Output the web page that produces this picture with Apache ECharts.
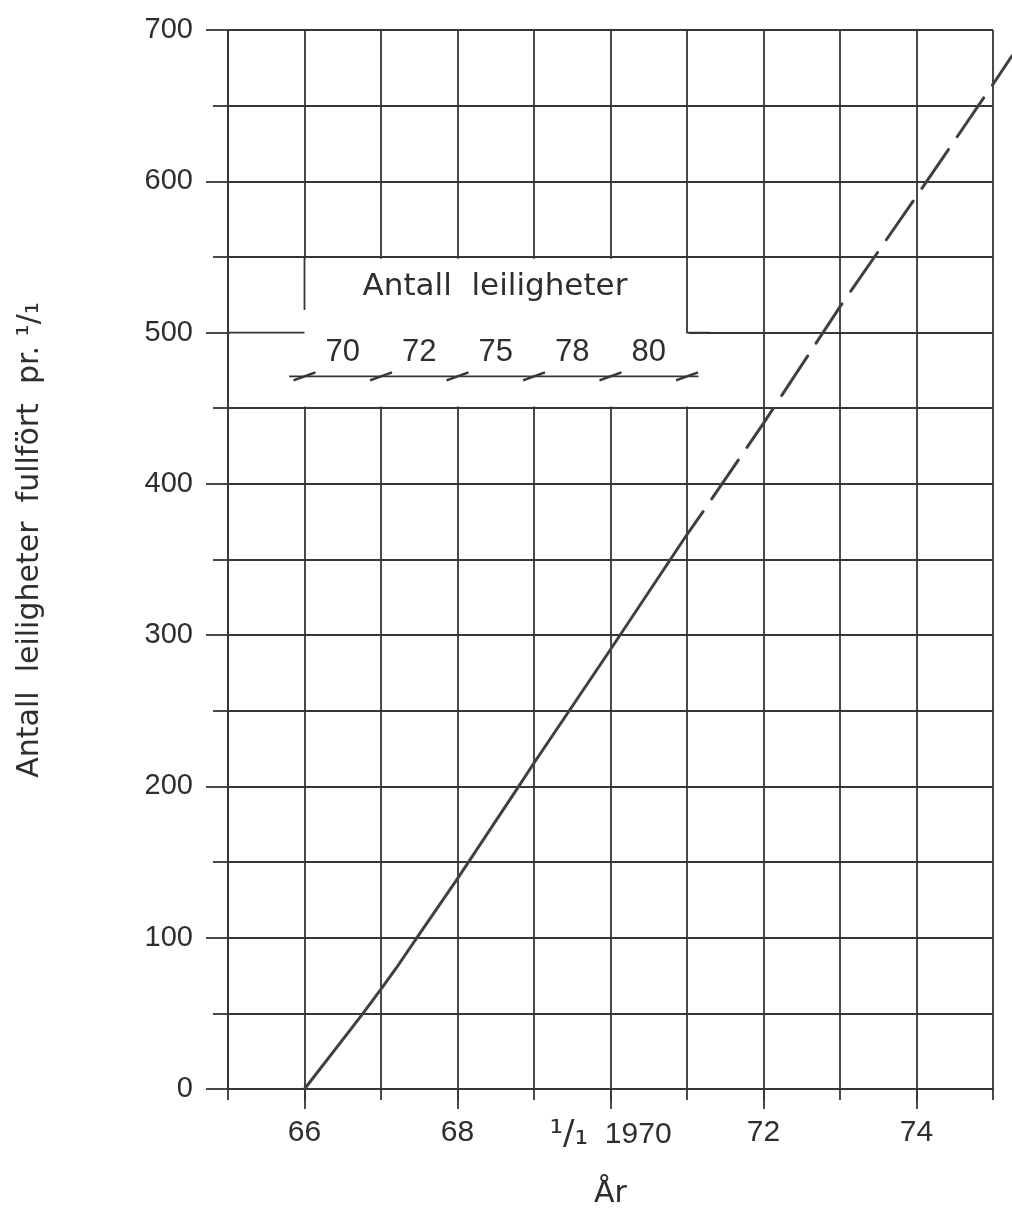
<!DOCTYPE html>
<html><head><meta charset="utf-8">
<script src="https://cdn.jsdelivr.net/npm/echarts@6/dist/echarts.min.js"></script>
<style>html,body{margin:0;padding:0;background:#fff}#c{width:1012px;height:1208px}</style>
</head><body><div id="c"></div>
<script>
// ---- data ----
const actualYears  = [66, 66.75, 67, 67.2, 67.47, 68, 68.8, 69, 70, 71, 71.21];
const actualValues = [0, 49, 66, 80, 100, 139, 200, 215.5, 290.5, 366.5, 381.6];
const projYears    = [71.21, 72, 73, 74, 75, 75.25];
const projValues   = [381.6, 440, 517, 590, 664, 683];
const xLabelYears  = [66, 68, 70, 72, 74];
const insetTitle   = 'Antall  leiligheter';
const insetYears   = [66, 67, 68, 69, 70, 71];
const insetCounts  = ['70', '72', '75', '78', '80'];
const yAxisTitle   = 'Antall  leiligheter  fullfört  pr. ¹/₁';
const xAxisTitle   = 'År';

const GRID = '#363636', INK = '#2e2e2e', LINE = '#404040';
const GW = 1.8;
const NUMF = 'Liberation Sans, Arial, DejaVu Sans, sans-serif';
const TXTF = 'DejaVu Sans, sans-serif';

const chart = echarts.init(document.getElementById('c'), null, {renderer: 'canvas'});
const option = {
  animation: false,
  backgroundColor: '#fff',
  grid: [
    {left: 228, right: 19, top: 30, bottom: 119, containLabel: false, outerBoundsMode: 'none'},
    // same scale, widened to the page edge so the projection can run past 1975
    {left: 228, right: 0, top: 30, bottom: 119, containLabel: false, outerBoundsMode: 'none'}
  ],
  xAxis: [{
    type: 'value', gridIndex: 0, min: 65, max: 75, interval: 1,
    axisLine: {show: true, onZero: false, lineStyle: {color: GRID, width: GW}},
    axisTick: {show: true, length: 11, lineStyle: {color: GRID, width: GW}},
    axisLabel: {show: false},
    splitLine: {show: true, lineStyle: {color: GRID, width: GW}}
  }, {
    type: 'value', gridIndex: 0, min: 65, max: 75, position: 'bottom',
    axisLine: {show: false, onZero: false},
    axisTick: {show: true, length: 20, customValues: xLabelYears, lineStyle: {color: GRID, width: GW}},
    axisLabel: {show: true, customValues: xLabelYears, margin: 29, fontSize: 30, fontFamily: NUMF, color: INK,
      formatter: v => v === 70 ? '{f|¹/₁}  1970' : String(v),
      rich: {f: {fontSize: 34, fontFamily: TXTF, color: INK}}},
    splitLine: {show: false}
  }, {
    type: 'value', gridIndex: 1, min: 65, max: 75.25, show: false
  }],
  yAxis: [{
    type: 'value', gridIndex: 0, min: 0, max: 700, interval: 100,
    axisLine: {show: true, onZero: false, lineStyle: {color: GRID, width: GW}},
    axisTick: {show: true, length: 22, lineStyle: {color: GRID, width: GW}},
    minorTick: {show: true, splitNumber: 2, length: 15, lineStyle: {color: GRID, width: GW}},
    axisLabel: {margin: 35, fontSize: 29, fontFamily: NUMF, color: INK},
    splitLine: {show: true, lineStyle: {color: GRID, width: GW}},
    minorSplitLine: {show: true, lineStyle: {color: GRID, width: GW}}
  }, {
    type: 'value', gridIndex: 1, min: 0, max: 700, show: false
  }],
  series: [{
    type: 'line', name: 'fullført', xAxisIndex: 0, yAxisIndex: 0, showSymbol: false, symbol: 'none',
    data: actualYears.map((x, i) => [x, actualValues[i]]),
    lineStyle: {color: LINE, width: 3, cap: 'round', join: 'round'}, z: 5
  }, {
    type: 'line', name: 'prognose', xAxisIndex: 2, yAxisIndex: 1, showSymbol: false, symbol: 'none', clip: false,
    data: projYears.map((x, i) => [x, projValues[i]]),
    lineStyle: {color: LINE, width: 3, type: [47, 15.5], dashOffset: 47, cap: 'round'}, z: 5
  }]
};
chart.setOption(option);

const px = (x, y) => chart.convertToPixel({gridIndex: 0}, [x, y]);
const g = [];
// white box for the inset (gridlines interrupted in the reference)
const a = px(65, 550), b = px(71, 450);
g.push({type: 'rect', z: 100, shape: {x: a[0] + 1.8, y: a[1] + 1.8, width: b[0] - a[0], height: b[1] - a[1] - 3.6}, style: {fill: '#fff'}});
const seg = pts => ({type: 'polyline', z: 101, shape: {points: pts}, style: {stroke: GRID, lineWidth: GW, fill: null}});
g.push(seg([px(66, 550), px(66, 515)]));
g.push(seg([px(65, 500), px(66, 500)]));
g.push(seg([px(71, 550), px(71, 500), px(71.3, 500)]));
// dimension line with slash marks
const dl = 471;
g.push({type: 'polyline', z: 101, shape: {points: [px(insetYears[0] - 0.2, dl), px(insetYears[insetYears.length - 1] + 0.15, dl)]}, style: {stroke: GRID, lineWidth: GW, fill: null}});
insetYears.forEach(yr => {
  const p = px(yr, dl);
  g.push({type: 'line', z: 101, shape: {x1: p[0] - 11, y1: p[1] + 4, x2: p[0] + 11, y2: p[1] - 4}, style: {stroke: GRID, lineWidth: 2.4}});
});
insetCounts.forEach((t, i) => {
  const p = px(insetYears[i] + 0.5, 487);
  g.push({type: 'text', z: 101, x: p[0], y: p[1], style: {text: t, align: 'center', verticalAlign: 'middle', fontSize: 31, fontFamily: NUMF, fill: INK}});
});
const tp = px(68.49, 530);
g.push({type: 'text', z: 101, x: tp[0], y: tp[1], style: {text: insetTitle, align: 'center', verticalAlign: 'middle', fontSize: 31, fontFamily: TXTF, fill: INK}});
// axis titles
const xc = px(70, 0);
g.push({type: 'text', z: 101, x: xc[0], y: 1194, style: {text: xAxisTitle, align: 'center', verticalAlign: 'middle', fontSize: 30, fontFamily: TXTF, fill: INK}});
g.push({type: 'text', z: 101, x: 30, y: 540, rotation: Math.PI / 2, style: {text: yAxisTitle, align: 'center', verticalAlign: 'middle', fontSize: 30, fontFamily: TXTF, fill: INK}});
chart.setOption({graphic: g});
</script></body></html>
